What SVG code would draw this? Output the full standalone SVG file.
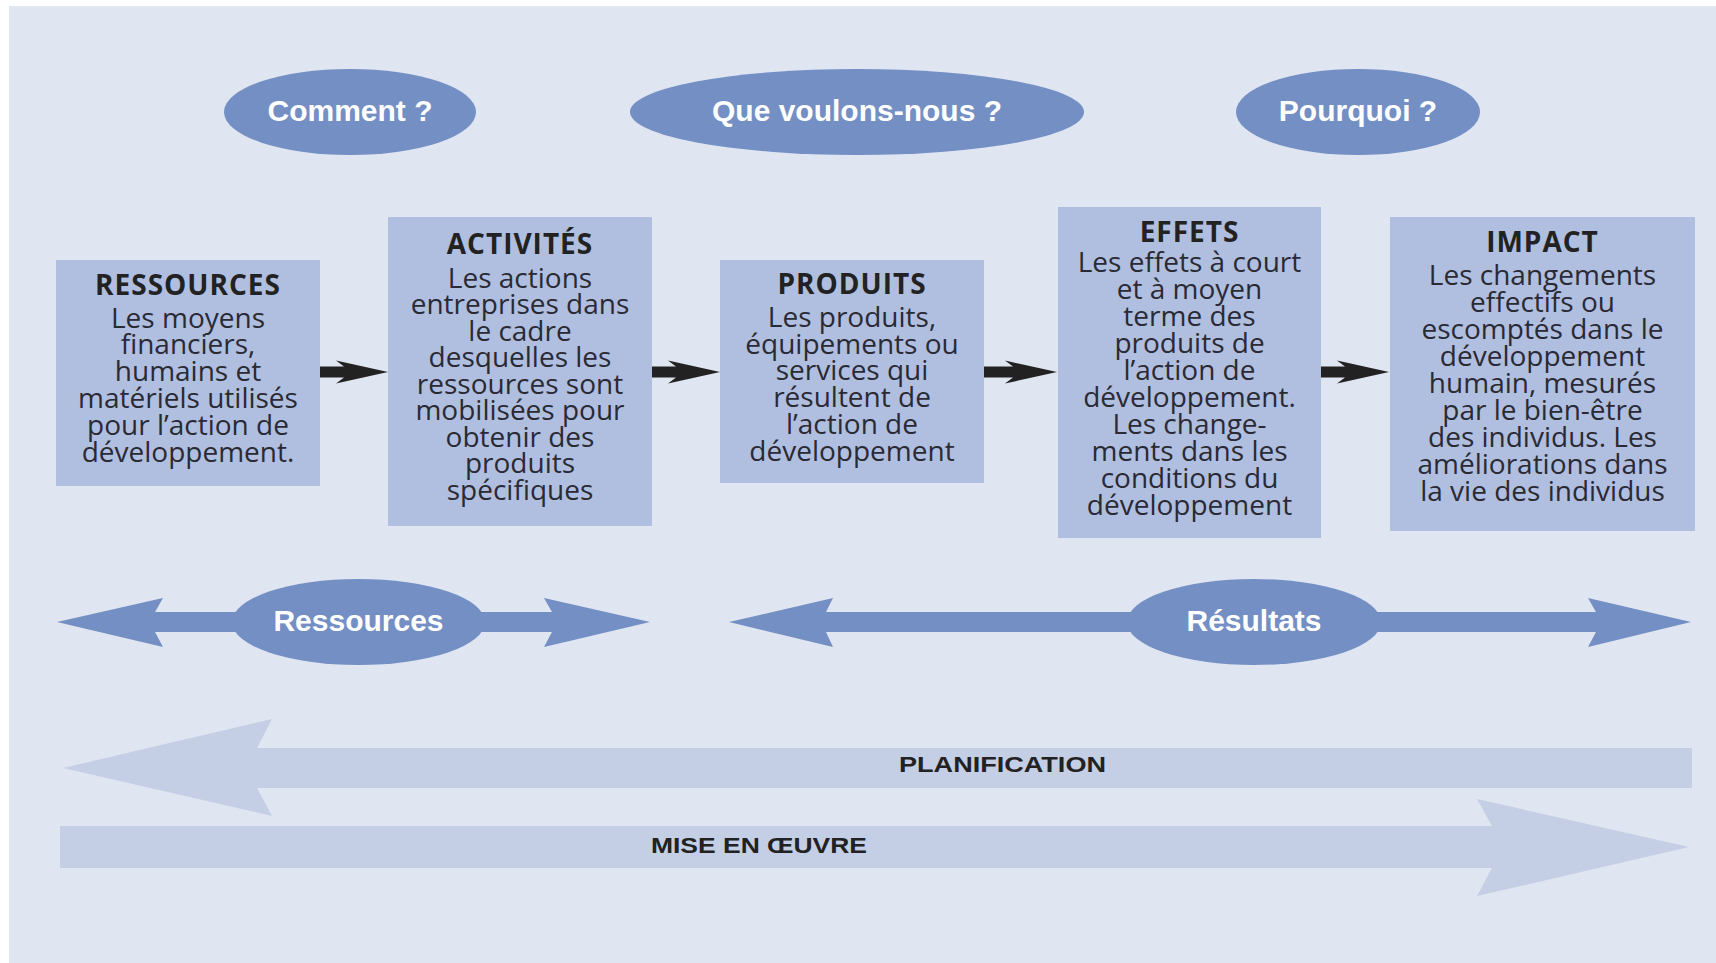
<svg xmlns="http://www.w3.org/2000/svg" width="1716" height="963" viewBox="0 0 1716 963">
<style>
.ell{fill:#748fc4}
.box{fill:#b0bfdf}
.lbl{font-family:"Liberation Sans",Arial,sans-serif;font-weight:bold;font-size:30px;fill:#ffffff;text-anchor:middle}
.ttl{font-family:"Open Sans","DejaVu Sans",sans-serif;font-weight:bold;font-size:28px;letter-spacing:1px;fill:#222;text-anchor:middle}
.bd{font-family:"Open Sans","DejaVu Sans",sans-serif;font-size:28px;fill:#2a2a35;text-anchor:middle}
.blk{fill:#222222}
.dbl{fill:#748fc4}
.band{fill:#c4cfe6}
.bl{font-family:"Liberation Sans",Arial,sans-serif;font-weight:bold;font-size:22px;fill:#222}
</style>
<rect x="0" y="0" width="1716" height="963" fill="#ffffff"/>
<rect x="9" y="6" width="1707" height="957" fill="#dfe5f1"/>

<g id="q-comment"><ellipse class="ell" cx="350" cy="112" rx="126" ry="43"/><text class="lbl" x="350" y="121">Comment ?</text></g>
<g id="q-que"><ellipse class="ell" cx="857" cy="112" rx="227" ry="43"/><text class="lbl" x="857" y="121">Que voulons-nous ?</text></g>
<g id="q-pourquoi"><ellipse class="ell" cx="1358" cy="112" rx="122" ry="43"/><text class="lbl" x="1358" y="121">Pourquoi ?</text></g>

<g id="ressources"><rect class="box" x="56" y="260" width="264" height="226"/>
<text class="ttl" x="188" y="295">RESSOURCES</text>
<text class="bd" x="188" y="327.5"><tspan x="188">Les moyens</tspan><tspan x="188" dy="26.9">financiers,</tspan><tspan x="188" dy="26.9">humains et</tspan><tspan x="188" dy="26.9">matériels utilisés</tspan><tspan x="188" dy="26.9">pour l’action de</tspan><tspan x="188" dy="26.9">développement.</tspan></text>
</g>

<g id="activites"><rect class="box" x="388" y="217" width="264" height="309"/>
<text class="ttl" x="520" y="254">ACTIVITÉS</text>
<text class="bd" x="520" y="287.5"><tspan x="520">Les actions</tspan><tspan x="520" dy="26.5">entreprises dans</tspan><tspan x="520" dy="26.5">le cadre</tspan><tspan x="520" dy="26.5">desquelles les</tspan><tspan x="520" dy="26.5">ressources sont</tspan><tspan x="520" dy="26.5">mobilisées pour</tspan><tspan x="520" dy="26.5">obtenir des</tspan><tspan x="520" dy="26.5">produits</tspan><tspan x="520" dy="26.5">spécifiques</tspan></text>
</g>

<g id="produits"><rect class="box" x="720" y="260" width="264" height="223"/>
<text class="ttl" x="852" y="294">PRODUITS</text>
<text class="bd" x="852" y="327"><tspan x="852">Les produits,</tspan><tspan x="852" dy="26.7">équipements ou</tspan><tspan x="852" dy="26.7">services qui</tspan><tspan x="852" dy="26.7">résultent de</tspan><tspan x="852" dy="26.7">l’action de</tspan><tspan x="852" dy="26.7">développement</tspan></text>
</g>

<g id="effets"><rect class="box" x="1058" y="207" width="263" height="331"/>
<text class="ttl" x="1189.5" y="242">EFFETS</text>
<text class="bd" x="1189.5" y="272"><tspan x="1189.5">Les effets à court</tspan><tspan x="1189.5" dy="27">et à moyen</tspan><tspan x="1189.5" dy="27">terme des</tspan><tspan x="1189.5" dy="27">produits de</tspan><tspan x="1189.5" dy="27">l’action de</tspan><tspan x="1189.5" dy="27">développement.</tspan><tspan x="1189.5" dy="27">Les change-</tspan><tspan x="1189.5" dy="27">ments dans les</tspan><tspan x="1189.5" dy="27">conditions du</tspan><tspan x="1189.5" dy="27">développement</tspan></text>
</g>

<g id="impact"><rect class="box" x="1390" y="217" width="305" height="314"/>
<text class="ttl" x="1542.5" y="252">IMPACT</text>
<text class="bd" x="1542.5" y="284.5"><tspan x="1542.5">Les changements</tspan><tspan x="1542.5" dy="27">effectifs ou</tspan><tspan x="1542.5" dy="27">escomptés dans le</tspan><tspan x="1542.5" dy="27">développement</tspan><tspan x="1542.5" dy="27">humain, mesurés</tspan><tspan x="1542.5" dy="27">par le bien-être</tspan><tspan x="1542.5" dy="27">des individus. Les</tspan><tspan x="1542.5" dy="27">améliorations dans</tspan><tspan x="1542.5" dy="27">la vie des individus</tspan></text>
</g>

<g id="connectors">
<path class="blk" d="M320 366.5 L344 366.5 L336 360.5 L388 372 L336 383.5 L344 377.5 L320 377.5 Z"/>
<path class="blk" d="M652 366.5 L676 366.5 L668 360.5 L720 372 L668 383.5 L676 377.5 L652 377.5 Z"/>
<path class="blk" d="M984 366.5 L1013 366.5 L1005 360.5 L1057 372 L1005 383.5 L1013 377.5 L984 377.5 Z"/>
<path class="blk" d="M1321 366.5 L1345 366.5 L1337 360.5 L1389 372 L1337 383.5 L1345 377.5 L1321 377.5 Z"/>
</g>

<g id="band-ressources">
<path class="dbl" d="M57 622 L163 598 L155 612 L552 612 L544 598 L650 622 L544 647 L552 632 L155 632 L163 647 Z"/>
<ellipse class="ell" cx="358.5" cy="622" rx="126.5" ry="43"/>
<text class="lbl" x="358.5" y="631">Ressources</text>
</g>

<g id="band-resultats">
<path class="dbl" d="M729 622 L833 598 L826 612 L1596 612 L1588 598 L1691 622 L1588 647 L1596 632 L826 632 L833 647 Z"/>
<ellipse class="ell" cx="1254" cy="622" rx="127" ry="43"/>
<text class="lbl" x="1254" y="631">Résultats</text>
</g>

<g id="planification">
<path class="band" d="M63 768 L272 719 L257 748 L1692 748 L1692 788 L257 788 L272 816 Z"/>
<text class="bl" x="899" y="772" textLength="207" lengthAdjust="spacingAndGlyphs">PLANIFICATION</text>
</g>

<g id="mise-en-oeuvre">
<path class="band" d="M60 826 L1492 826 L1477 799 L1689 847 L1477 896 L1492 868 L60 868 Z"/>
<text class="bl" x="651" y="853" textLength="216" lengthAdjust="spacingAndGlyphs">MISE EN ŒUVRE</text>
</g>
</svg>
